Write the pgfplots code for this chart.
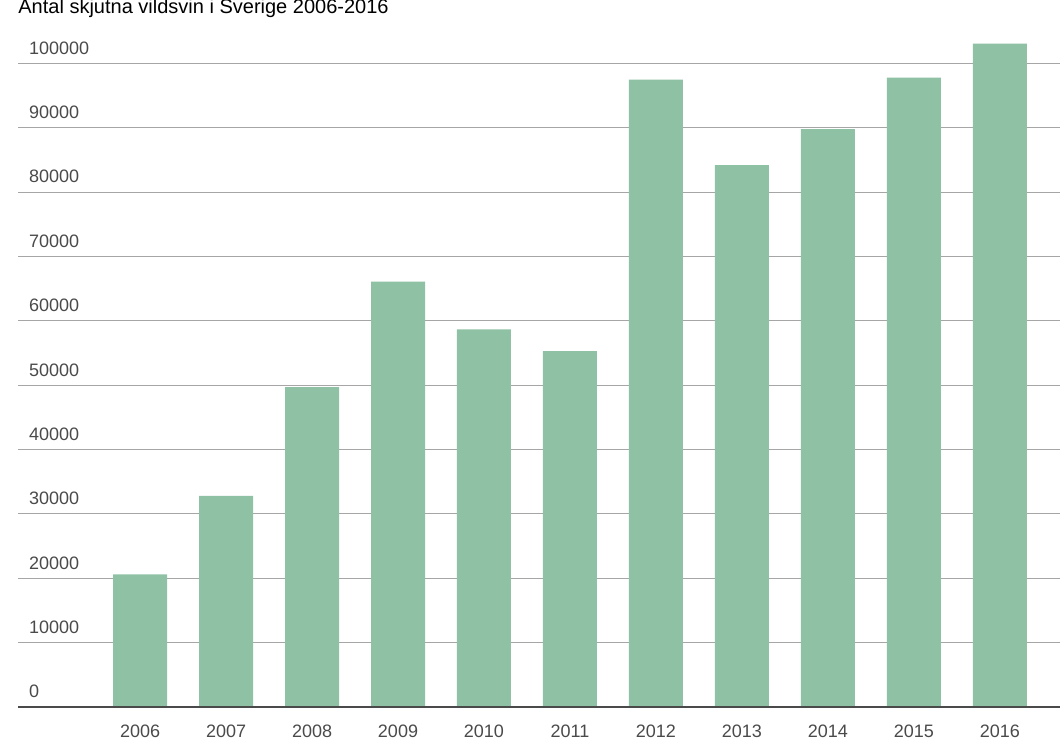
\documentclass[border=0pt]{standalone}
\usepackage{pgfplots}
\pgfplotsset{compat=1.18}
\usepackage{fontspec}
\setmainfont{Liberation Sans}
\definecolor{barc}{HTML}{8FC1A5}
\definecolor{txt}{HTML}{4A4A4A}
\begin{document}
\begin{tikzpicture}
\useasboundingbox (0,0) rectangle (530pt,375.5pt);
\begin{axis}[
  at={(9pt,22pt)}, anchor=south west,
  scale only axis, width=521pt, height=333pt,
  xmin=-1.42, xmax=10.7, ymin=0, ymax=103500,
  axis line style={draw=none},
  ybar, bar width=27pt,
  xtick={0,...,10}, xticklabels={2006,2007,2008,2009,2010,2011,2012,2013,2014,2015,2016},
  xtick style={draw=none}, ytick style={draw=none},
  ytick={0,10000,...,100000},
  ymajorgrids, grid style={gray!70, line width=0.5pt},
  /pgf/number format/assume math mode=true,
  scaled y ticks=false,
  yticklabel={\pgfmathprintnumber[fixed,set thousands separator={}]{\tick}},
  yticklabel style={anchor=south west, xshift=2pt, yshift=1pt, font=\fontsize{9}{10}\selectfont, text=txt},
  xticklabel style={font=\fontsize{9}{10}\selectfont, text=txt, yshift=-1pt},
  clip=false,
]
\addplot[fill=barc, draw=none] coordinates {(0,20600)(1,32800)(2,49700)(3,66100)(4,58700)(5,55300)(6,97500)(7,84200)(8,89800)(9,97800)(10,103100)};
\draw[txt, line width=1.2pt] (axis cs:-1.42,0) -- (axis cs:10.7,0);
\node[anchor=south west, font=\fontsize{10}{12}\selectfont, inner sep=0pt] at (axis cs:-1.42,107000) {Antal skjutna vildsvin i Sverige 2006-2016};
\end{axis}
\end{tikzpicture}
\end{document}
